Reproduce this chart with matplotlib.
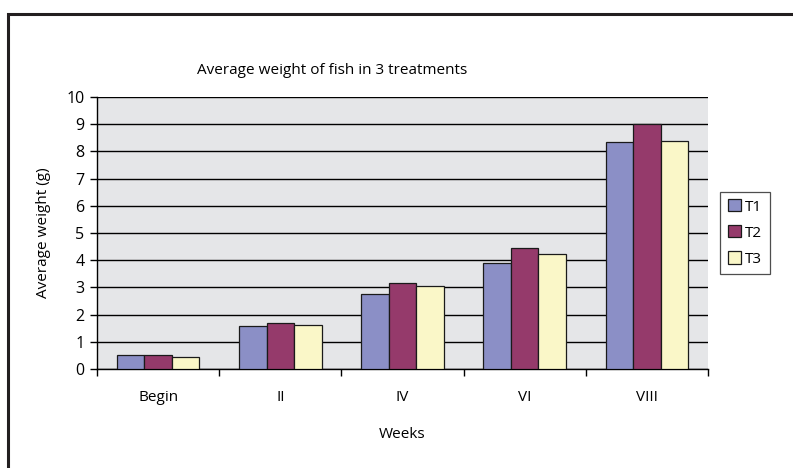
import matplotlib

matplotlib.use("Agg")
import matplotlib.pyplot as plt  # noqa: E402
import numpy as np  # noqa: E402
from matplotlib.patches import Rectangle  # noqa: E402

plt.rcParams["font.family"] = ["Open Sans", "DejaVu Sans"]

weeks = ["Begin", "II", "IV", "VI", "VIII"]
t1 = [0.51, 1.58, 2.77, 3.88, 8.34]
t2 = [0.51, 1.68, 3.18, 4.45, 9.00]
t3 = [0.46, 1.63, 3.04, 4.22, 8.39]
series = [("T1", t1, "#8b8fc6"), ("T2", t2, "#953a6b"), ("T3", t3, "#faf7c8")]

fig = plt.figure(figsize=(7.93, 4.68), dpi=100)
ax = fig.add_axes([0.1223, 0.2115, 0.7705, 0.5812])

# outer chart frame (right and bottom edges run off the canvas)
fig.patches.append(Rectangle((8 / 793, -0.05), 1.2, 0.97 + 0.05,
                             transform=fig.transFigure, fill=False,
                             edgecolor="#231f20", linewidth=2.2))

x = np.arange(len(weeks))
w = 0.225
handles = []
for i, (name, vals, col) in enumerate(series):
    b = ax.bar(x + (i - 1) * w, vals, w, color=col, edgecolor="#1a1a1a",
               linewidth=0.9, label=name, zorder=3)
    handles.append(b)

ax.set_facecolor("#e5e6e8")
ax.set_xlim(-0.5, len(weeks) - 0.5)
ax.set_ylim(0, 10)
ax.set_yticks(range(0, 11))
ax.yaxis.grid(True, color="black", linewidth=1.0, zorder=1)
ax.set_axisbelow(True)

fs = 11
ax.set_xticks(x)
ax.set_xticklabels(weeks, fontsize=fs)
ax.tick_params(axis="x", length=0, pad=15)
ax.set_xticks(np.arange(-0.5, len(weeks)), minor=True)
ax.tick_params(axis="x", which="minor", length=5, width=1, direction="out")
ax.tick_params(axis="y", length=5, width=1, labelsize=11.5, pad=4)

for s in ["top", "right"]:
    ax.spines[s].set_visible(False)
ax.spines["left"].set_linewidth(1.0)
ax.spines["bottom"].set_linewidth(1.0)

ax.set_ylabel("Average weight (g)", fontsize=fs, labelpad=11)
ax.set_xlabel("Weeks", fontsize=fs, labelpad=16)
fig.text(0.419, 0.850, "Average weight of fish in 3 treatments",
         fontsize=fs, ha="center", va="center")

leg = fig.legend(handles=handles, loc="center left",
                 bbox_to_anchor=(720 / 793, 1 - 233 / 468), frameon=True,
                 fancybox=False, edgecolor="#222222", fontsize=fs,
                 handlelength=0.85, handleheight=0.85, handletextpad=0.3,
                 labelspacing=0.7, borderpad=0.5, borderaxespad=0)
leg.get_frame().set_linewidth(0.9)

fig.savefig("out.png", dpi=100)
plt.close(fig)
